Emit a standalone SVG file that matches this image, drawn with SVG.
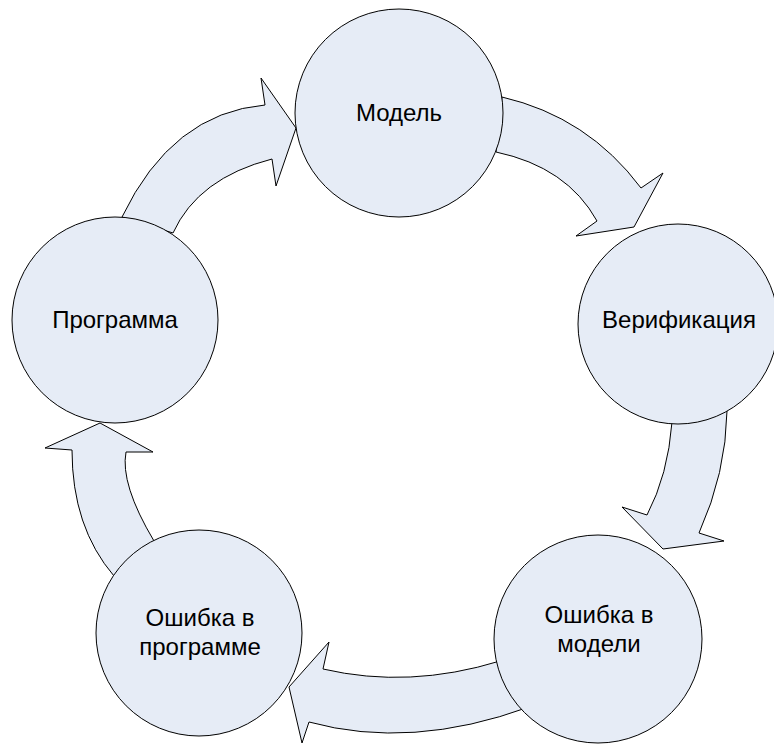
<svg xmlns="http://www.w3.org/2000/svg" width="774" height="744" viewBox="0 0 774 744">
<style>
.arrow{fill:#E6ECF6;stroke:#000;stroke-width:1;stroke-linejoin:miter}
.node circle{fill:#E6ECF6;stroke:#000;stroke-width:1}
.node text{font-family:"Liberation Sans",Arial,sans-serif;font-size:24px;fill:#000;text-anchor:middle}
</style>
<rect width="774" height="744" fill="#fff"/>
<g id="connectors">
<path class="arrow" d="M122,217 Q172,113 265,105 L261,78 L296,128 L276,186 L272,159 Q198,178 173,233 Z"/>
<path class="arrow" d="M502,97 Q588,117 641,188 L663,173 L634,227 L576,236 L597,221 Q567,167 496,152 Z"/>
<path class="arrow" d="M727,411 Q726,473 699,533 L724,541 L663,549 L622,507 L647,515 Q668,475 672,422 Z"/>
<path class="arrow" d="M500,661 Q409,689 323,669 L329,642 L289,687 L302,743 L309,722 Q411,750 529,707 Z"/>
<path class="arrow" d="M114,576 Q72,527 72,450 L45,448 L100,423 L153,452 L126,452 Q120,484 154,541 Z"/>
</g>
<g id="node-model" class="node">
<circle cx="399" cy="113" r="104"/>
<text x="399" y="121">Модель</text>
</g>
<g id="node-verification" class="node">
<circle cx="678" cy="324" r="100"/>
<text x="679" y="328">Верификация</text>
</g>
<g id="node-model-error" class="node">
<circle cx="598" cy="639" r="104"/>
<text x="599" y="623">Ошибка в</text>
<text x="599" y="652">модели</text>
</g>
<g id="node-program-error" class="node">
<circle cx="199" cy="633" r="103"/>
<text x="200" y="626">Ошибка в</text>
<text x="200" y="655">программе</text>
</g>
<g id="node-program" class="node">
<circle cx="115" cy="320" r="103"/>
<text x="115" y="328">Программа</text>
</g>
</svg>
